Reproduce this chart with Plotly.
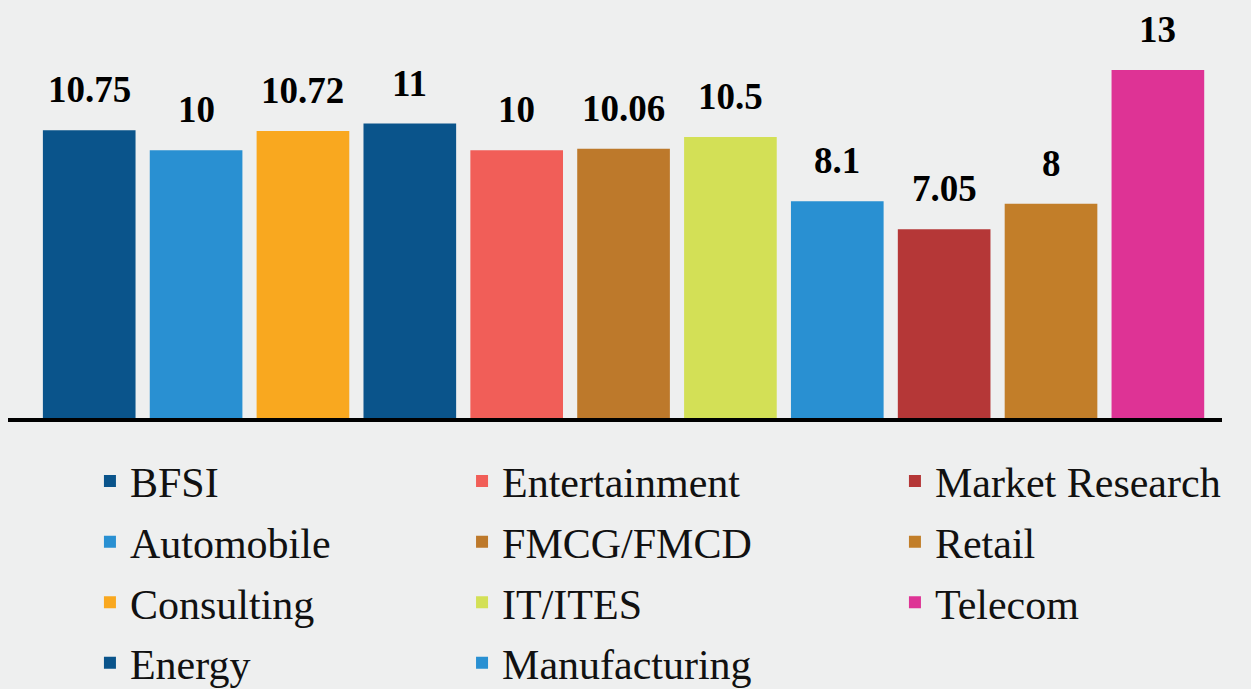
import plotly.graph_objects as go

categories = ["BFSI", "Automobile", "Consulting", "Energy", "Entertainment",
              "FMCG/FMCD", "IT/ITES", "Manufacturing", "Market Research",
              "Retail", "Telecom"]
values = [10.75, 10, 10.72, 11, 10, 10.06, 10.5, 8.1, 7.05, 8, 13]
labels = ["10.75", "10", "10.72", "11", "10", "10.06", "10.5", "8.1", "7.05", "8", "13"]
colors = ["#0a548b", "#2990d2", "#f9a81f", "#0a548b", "#f15e58", "#bd792b",
          "#d3e056", "#2990d2", "#b53737", "#c27e29", "#de3395"]
legend_ids = ["legend"] * 4 + ["legend2"] * 4 + ["legend3"] * 3

SERIF = "Times New Roman, Liberation Serif, Tinos, DejaVu Serif, serif"

fig = go.Figure()
for cat, val, col, lg in zip(categories, values, colors, legend_ids):
    fig.add_trace(go.Bar(
        x=[cat], y=[val], name=cat, marker=dict(color=col, line=dict(width=0)),
        width=0.867, legend=lg, legendgroup=cat, showlegend=True,
        hoverinfo="x+y"))

for cat, val, lab in zip(categories, values, labels):
    fig.add_annotation(x=cat, y=val, text="<b>" + lab + "</b>", showarrow=False,
                       yanchor="bottom", yshift=18,
                       font=dict(family=SERIF, size=37, color="#000000"))

legend_font = dict(family=SERIF, size=42, color="#111111")
common = dict(orientation="v", yanchor="top", xanchor="left", y=-0.07,
              bgcolor="rgba(0,0,0,0)", font=legend_font, tracegroupgap=3,
              itemclick=False, itemdoubleclick=False)

fig.update_layout(
    width=1251, height=689,
    margin=dict(l=8, r=29, t=0, b=271, autoexpand=False),
    paper_bgcolor="#eeefef", plot_bgcolor="#eeefef",
    barmode="overlay",
    xaxis=dict(categoryorder="array", categoryarray=categories,
               range=[-0.76, 10.6], showticklabels=False, showgrid=False,
               zeroline=False, showline=True, linecolor="#000000", linewidth=4,
               ticks=""),
    yaxis=dict(range=[0, 15.615], visible=False, showgrid=False, zeroline=False),
    legend=dict(x=0.0675, **common),
    legend2=dict(x=0.374, **common),
    legend3=dict(x=0.7306, **common),
)

fig.write_html("out.html", config={"displayModeBar": False},
               post_script="document.body.style.margin='0';document.body.style.padding='0';")
